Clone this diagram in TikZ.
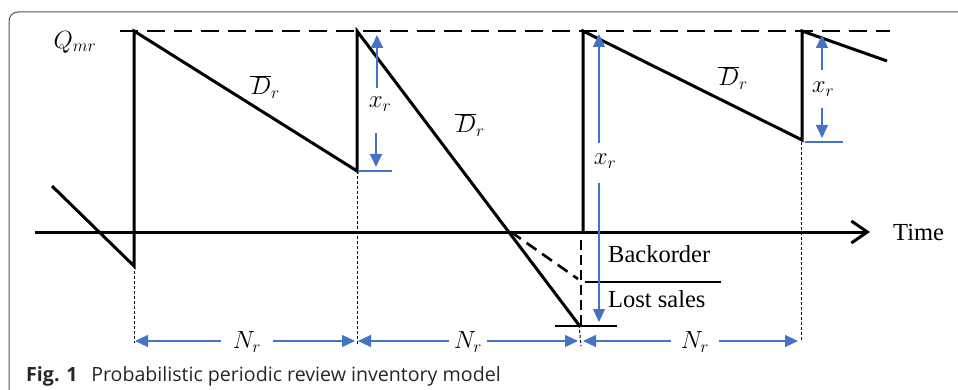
\documentclass[tikz,border=0pt]{standalone}
\usepackage{fontspec}
\setmainfont{Liberation Serif}
\newfontfamily\capfont{Open Sans}
\usetikzlibrary{arrows.meta}
\definecolor{blu}{HTML}{4472C4}
\definecolor{framegray}{HTML}{555555}
\begin{document}
\begin{tikzpicture}[x=1pt,y=-1pt,
  heavy/.style={line width=3pt,black},
  guide/.style={line width=1pt,black,dash pattern=on 3pt off 2pt},
  bluearrow/.style={blu,line width=1.2pt,-{Triangle[length=13pt,width=12pt]}},
  bluetick/.style={blu,line width=1.2pt},
  mathlbl/.style={font=\fontsize{25}{29}\selectfont,inner sep=0pt},
  txt/.style={font=\fontsize{24.5}{28}\selectfont,inner sep=0pt}]
\useasboundingbox (0,0) rectangle (958,390);
% frame
\draw[framegray,line width=1pt,rounded corners=9pt] (9,392) -- (9,12) -- (960,12);
% Qmr level
\draw[line width=2.6pt,dash pattern=on 18pt off 9pt] (120,31) -- (890,31);
% axis
\coordinate (ax0) at (35,232);
\coordinate (ax1) at (870,232);
\draw[heavy,-{Straight Barb[length=16pt,width=22pt]}] (ax0) -- (ax1);
\node[txt,anchor=west] (time) at (893,233) {Time};
% sawtooth
\coordinate (a0) at (52,186);
\coordinate (a1) at (134,266);
\coordinate (a2) at (134,31);
\coordinate (a3) at (357,171);
\coordinate (a4) at (357,31);
\coordinate (a5) at (579,325);
\coordinate (b0) at (583,232);
\coordinate (b1) at (583,31);
\coordinate (b2) at (802,140);
\coordinate (b3) at (802,31);
\coordinate (b4) at (887,61);
\draw[heavy] (a0) -- (a1) -- (a2) -- (a3) -- (a4) -- (a5);
\draw[heavy] (b0) -- (b1) -- (b2) -- (b3) -- (b4);
% backorder branch
\coordinate (c0) at (511,232);
\coordinate (c1) at (578,279);
\coordinate (d0) at (581,240);
\coordinate (d1) at (581,325);
\draw[line width=2.6pt,dash pattern=on 12pt off 7pt] (c0) -- (c1);
\draw[line width=2.6pt,dash pattern=on 10pt off 5pt] (d0) -- (d1);
\coordinate (s0) at (585,282);
\coordinate (s1) at (721,282);
\draw[line width=2.8pt] (s0) -- (s1);
\coordinate (t0) at (555,326);
\coordinate (t1) at (617,326);
\draw[line width=1.2pt] (t0) -- (t1);
\node[txt,anchor=west] (bo) at (608,254) {Backorder};
\node[txt,anchor=west] (ls) at (608,299) {Lost sales};
% review guides
\coordinate (g1) at (134,343);
\coordinate (g2) at (357,346);
\coordinate (g3) at (581,346);
\coordinate (g4a) at (801,142);
\coordinate (g4) at (801,342);
\draw[guide] (a1) -- (g1);
\draw[guide] (a3) -- (g2);
\draw[guide] (a5) -- (g3);
\draw[guide] (g4a) -- (g4);
% labels
\node[mathlbl] (q) at (75,42) {$Q_{mr}$};
\node[mathlbl] (d1l) at (265,87) {$\overline{D}_r$};
\node[mathlbl] (d2l) at (470,125) {$\overline{D}_r$};
\node[mathlbl] (d3l) at (733,78) {$\overline{D}_r$};
% x_r dimension arrows
\node[mathlbl] (x1) at (380,104) {$x_r$};
\coordinate (x1u) at (377,88);
\coordinate (x1ut) at (377,35);
\coordinate (x1d) at (376,133);
\coordinate (x1dt) at (376,167);
\draw[bluearrow,line width=1.8pt] (x1u) -- (x1ut);
\draw[bluearrow,line width=1.8pt] (x1d) -- (x1dt);
\coordinate (k1a) at (358,171);
\coordinate (k1b) at (392,171);
\draw[bluetick] (k1a) -- (k1b);
\node[mathlbl] (x2) at (605,161) {$x_r$};
\coordinate (x2u) at (599,143);
\coordinate (x2ut) at (599,34);
\coordinate (x2d) at (599,183);
\coordinate (x2dt) at (599,322);
\draw[bluearrow] (x2u) -- (x2ut);
\draw[bluearrow] (x2d) -- (x2dt);
\node[mathlbl] (x3) at (823,89) {$x_r$};
\coordinate (x3u) at (822,70);
\coordinate (x3ut) at (822,35);
\coordinate (x3d) at (822,108);
\coordinate (x3dt) at (822,138);
\draw[bluearrow] (x3u) -- (x3ut);
\draw[bluearrow] (x3d) -- (x3dt);
\coordinate (k3a) at (805,142);
\coordinate (k3b) at (843,142);
\draw[bluetick] (k3a) -- (k3b);
% N_r period arrows
\node[mathlbl,inner xsep=12pt] (n1) at (247,342) {$N_r$};
\node[mathlbl,inner xsep=5pt] (n2) at (468,342) {$N_r$};
\node[mathlbl,inner xsep=10pt] (n3) at (695,342) {$N_r$};
\coordinate (p1l) at (135,341);
\coordinate (p1r) at (355,341);
\coordinate (p2l) at (358,341);
\coordinate (p2r) at (578,341);
\coordinate (p3l) at (583,341);
\coordinate (p3r) at (798,341);
\draw[bluearrow] (n1.west |- p1l) -- (p1l);
\draw[bluearrow] (n1.east |- p1r) -- (p1r);
\draw[bluearrow] (n2.west |- p2l) -- (p2l);
\draw[bluearrow] (n2.east |- p2r) -- (p2r);
\draw[bluearrow] (n3.west |- p3l) -- (p3l);
\draw[bluearrow] (n3.east |- p3r) -- (p3r);
% caption
\node[anchor=base west,inner sep=0pt,font=\capfont\fontsize{19.6}{23}\selectfont,text=black!85] (cap) at (26,381) {\textbf{Fig. 1}\hspace{0.7em}Probabilistic periodic review inventory model};
\end{tikzpicture}
\end{document}
